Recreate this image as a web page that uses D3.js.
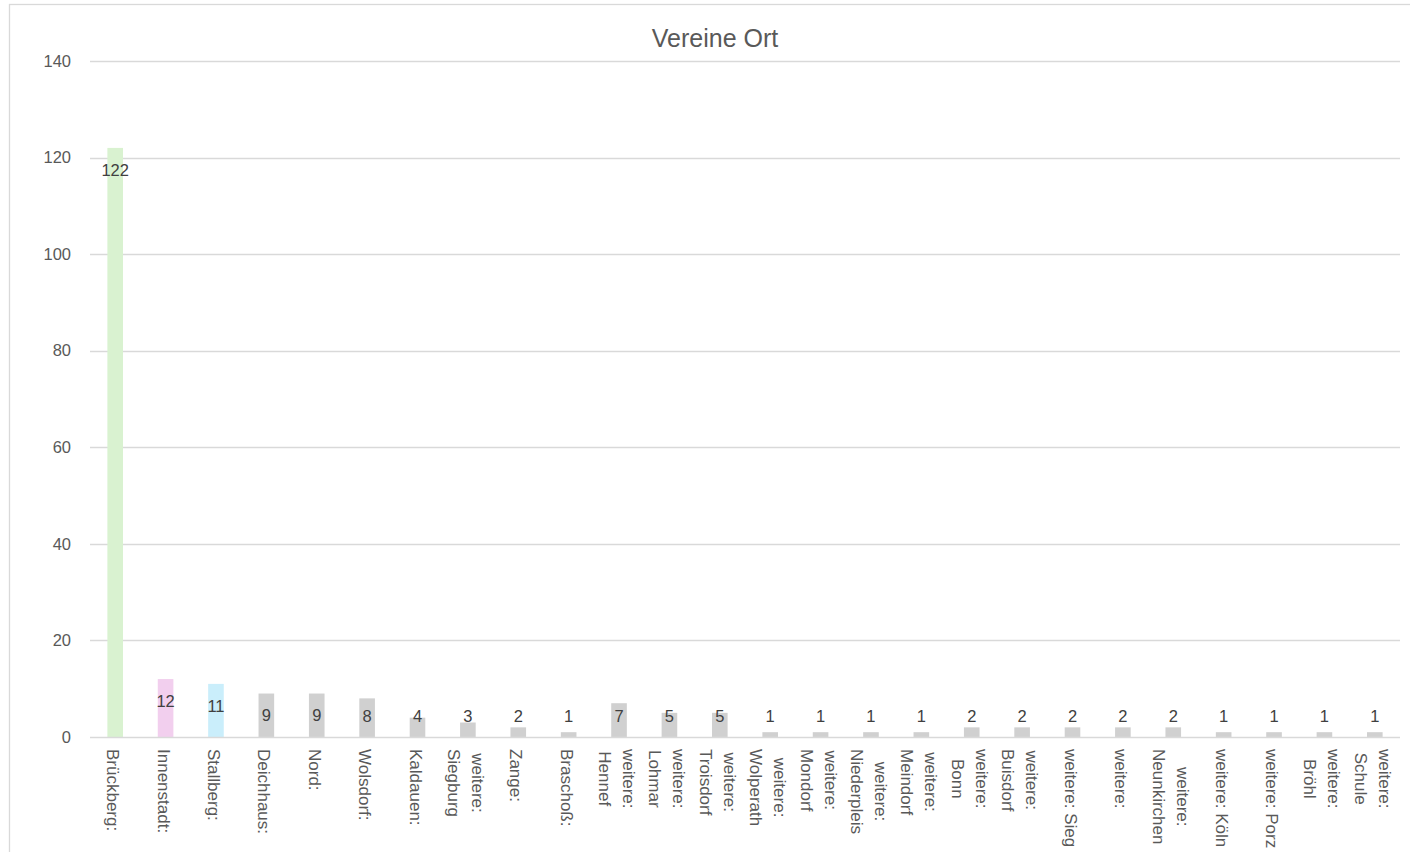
<!DOCTYPE html>
<html>
<head>
<meta charset="utf-8">
<script src="https://cdn.jsdelivr.net/npm/d3@7"></script>
<style>
  html, body { margin: 0; padding: 0; background: #fff; }
  svg { display: block; font-family: "Liberation Sans", Arial, sans-serif; }
</style>
</head>
<body>
<svg id="chart" width="1410" height="852"></svg>
<script>
// ---- data ----
const title = "Vereine Ort";
const categories = [
  ["Brückberg:"], ["Innenstadt:"], ["Stallberg:"], ["Deichhaus:"], ["Nord:"],
  ["Wolsdorf:"], ["Kaldauen:"], ["weitere:", "Siegburg"], ["Zange:"], ["Braschoß:"],
  ["weitere:", "Hennef"], ["weitere:", "Lohmar"], ["weitere:", "Troisdorf"],
  ["weitere:", "Wolperath"], ["weitere:", "Mondorf"], ["weitere:", "Niederpleis"],
  ["weitere:", "Meindorf"], ["weitere:", "Bonn"], ["weitere:", "Buisdorf"],
  ["weitere: Sieg"], ["weitere:"], ["weitere:", "Neunkirchen"],
  ["weitere: Köln"], ["weitere: Porz"], ["weitere:", "Bröhl"], ["weitere:", "Schule"]
];
const values = [122, 12, 11, 9, 9, 8, 4, 3, 2, 1, 7, 5, 5, 1, 1, 1, 1, 2, 2, 2, 2, 2, 1, 1, 1, 1];
const yTicks = [0, 20, 40, 60, 80, 100, 120, 140];
const barColors = ["#d9f2d0", "#f2cfee", "#caeefb"];
const defaultBarColor = "#d0d0d0";

// ---- layout ----
const svg = d3.select("#chart");
const plot = { left: 90, right: 1400, top: 61, bottom: 737 };
const keys = categories.map((c, i) => i);

const x = d3.scaleBand().domain(keys).range([plot.left, plot.right]).paddingInner(0.69).paddingOuter(0.345);
const y = d3.scaleLinear().domain([0, 140]).range([plot.bottom, plot.top]);

// chart border
svg.append("rect")
  .attr("x", 9.5).attr("y", 4.5).attr("width", 1420).attr("height", 870)
  .attr("fill", "none").attr("stroke", "#d9d9d9").attr("stroke-width", 1.3);

// title
svg.append("text")
  .attr("x", 715).attr("y", 47)
  .attr("text-anchor", "middle")
  .attr("font-size", 25)
  .attr("fill", "#595959")
  .text(title);

// gridlines
svg.append("g").selectAll("line")
  .data(yTicks.filter(t => t !== 0))
  .join("line")
  .attr("x1", plot.left).attr("x2", plot.right)
  .attr("y1", d => Math.round(y(d)) + 0.5).attr("y2", d => Math.round(y(d)) + 0.5)
  .attr("stroke", "#d9d9d9").attr("stroke-width", 1.3);

// y axis labels
const yAxis = d3.axisLeft(y).tickValues(yTicks).tickSize(0).tickPadding(0);
const yg = svg.append("g").attr("transform", `translate(71,0)`).call(yAxis);
yg.select(".domain").remove();
yg.selectAll("text")
  .attr("font-family", "Liberation Sans, Arial, sans-serif")
  .attr("font-size", 16.5)
  .attr("fill", "#595959");

// bars
svg.append("g").selectAll("rect")
  .data(values)
  .join("rect")
  .attr("x", (d, i) => x(i))
  .attr("width", x.bandwidth())
  .attr("y", d => y(d))
  .attr("height", d => y(0) - y(d))
  .attr("fill", (d, i) => barColors[i] || defaultBarColor);

// x axis line
svg.append("line")
  .attr("x1", plot.left).attr("x2", plot.right)
  .attr("y1", y(0) + 0.5).attr("y2", y(0) + 0.5)
  .attr("stroke", "#d9d9d9").attr("stroke-width", 1.3);

// data labels (inside end, with a minimum height)
const fsLabel = 16.5;
svg.append("g").selectAll("text")
  .data(values)
  .join("text")
  .attr("x", (d, i) => x(i) + x.bandwidth() / 2)
  .attr("y", d => Math.min(y(d) + 22, y(0) - 21) + fsLabel * 0.36)
  .attr("text-anchor", "middle")
  .attr("font-size", fsLabel)
  .attr("fill", "#404040")
  .text(d => d);

// x category labels (rotated 90°, multi-line, centered lines)
const fsCat = 17;
const lineH = 24;
const catG = svg.append("g");
categories.forEach((lines, i) => {
  const cx = x(i) + x.bandwidth() / 2;
  const g = catG.append("g").attr("transform", `translate(${cx},749) rotate(90)`);
  const n = lines.length;
  const texts = lines.map((ln, j) => g.append("text")
    .attr("font-size", fsCat)
    .attr("fill", "#595959")
    .attr("y", 8 - 12 * (n - 1) + lineH * j)
    .text(ln));
  const lens = texts.map(t => t.node().getComputedTextLength());
  const maxLen = d3.max(lens);
  texts.forEach((t, j) => t.attr("x", (maxLen - lens[j]) / 2));
});
</script>
</body>
</html>
